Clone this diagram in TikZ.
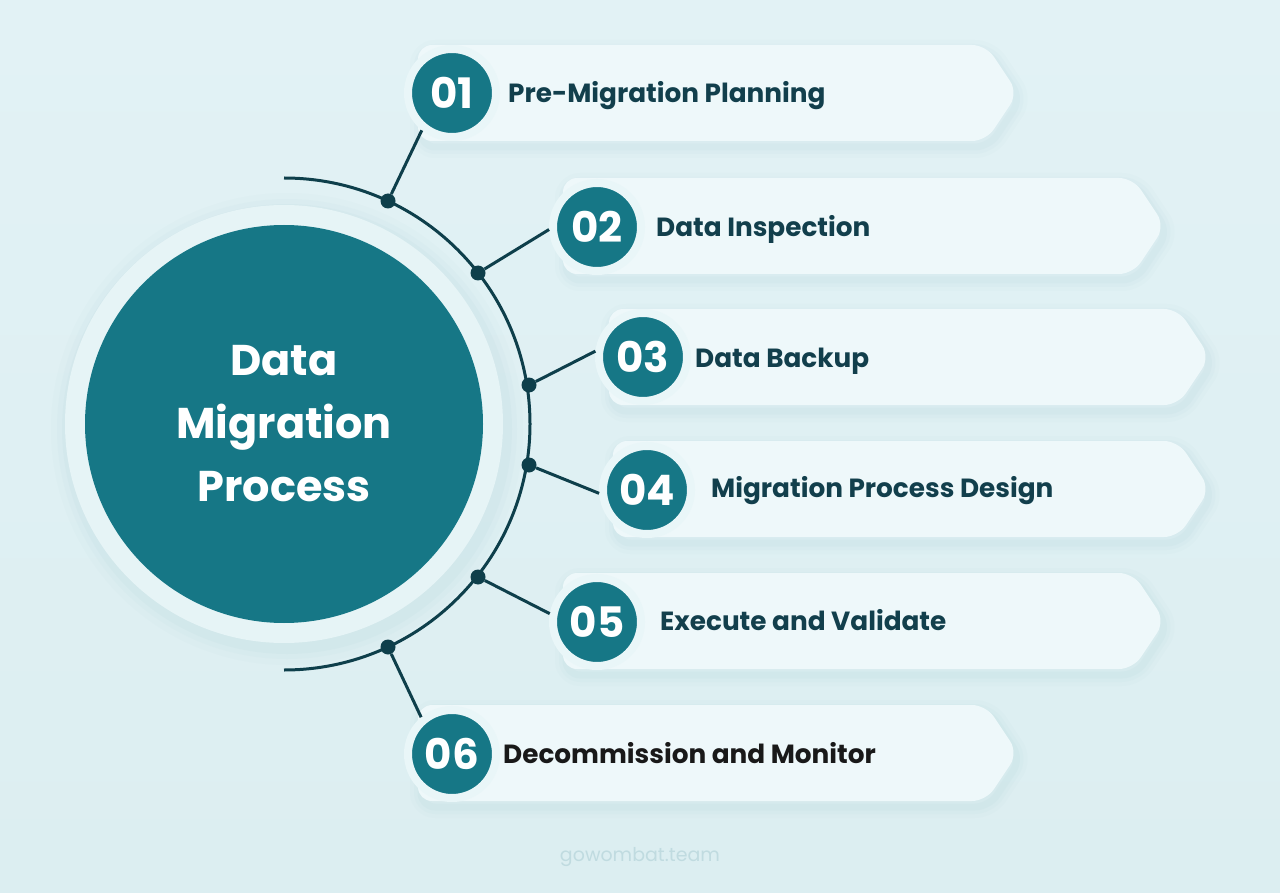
\documentclass[tikz,border=0pt]{standalone}
\usepackage{fontspec}
\setmainfont{Poppins}
\usetikzlibrary{calc}
\definecolor{bgtop}{HTML}{E2F2F5}
\definecolor{bgbot}{HTML}{DCEEF1}
\definecolor{teal}{HTML}{167786}
\definecolor{darkline}{HTML}{0E3F4B}
\definecolor{halo}{HTML}{E9F6F8}
\definecolor{bigring}{HTML}{E6F4F6}
\definecolor{bannerfill}{HTML}{EEF8FA}
\definecolor{shadowc}{HTML}{9CC6CE}
\definecolor{labelc}{HTML}{123F4C}
\definecolor{markc}{HTML}{C0DBE0}
\newcommand\bshape[3]{(#1,#2-48) -- (#3-32,#2-48) -- (#3,#2) -- (#3-32,#2+48) -- (#1,#2+48) -- cycle}
\newcommand\banner[3]{%
  \begin{scope}[shift={(3,6)}]
    \foreach \w/\o in {22/0.04,14/0.05,7/0.07}{%
      \draw[shadowc,line width=\w pt,opacity=\o,rounded corners=14pt,line join=round] \bshape{#1}{#2}{#3};}
  \end{scope}
  \fill[bannerfill,rounded corners=14pt] \bshape{#1}{#2}{#3};}
\tikzset{
  bigc/.style={circle,fill=teal,minimum size=398pt,inner sep=0pt,text=white,
    font=\bfseries\fontsize{43}{63}\selectfont,align=center},
  numc/.style={circle,fill=teal,draw=halo,line width=8pt,minimum size=88pt,inner sep=0pt,
    text=white,font=\bfseries\fontsize{42}{42}\selectfont},
  dotc/.style={circle,fill=darkline,minimum size=15pt,inner sep=0pt},
  conn/.style={darkline,line width=3pt},
  lab/.style={anchor=base west,inner sep=0pt,text=labelc,font=\bfseries\fontsize{26.3}{30}\selectfont},
}
\begin{document}
\begin{tikzpicture}[x=1pt,y=-1pt]
\shade[top color=bgtop,bottom color=bgbot] (0,0) rectangle (1280,893);
\useasboundingbox (0,0) rectangle (1280,893);
% central circle
\foreach \r/\o in {236/0.04,230/0.05,225/0.07}{\fill[shadowc,opacity=\o] (287,429) circle (\r);}
\fill[bigring] (284,424) circle (219);
\node[bigc] (main) at (284,424) {Data\\Migration\\Process};
% arc
\draw[conn] (284,178) arc[start angle=-90,end angle=90,radius=246];
% banners
\banner{418}{93}{1018}
\banner{563}{226}{1165}
\banner{609}{357}{1210}
\banner{613}{489}{1210}
\banner{563}{621}{1165}
\banner{418}{753}{1018}
% number circles
\node[numc] (n1) at (452,93) {01};
\node[numc] (n2) at (597,227) {02};
\node[numc] (n3) at (643,357) {03};
\node[numc] (n4) at (647,490) {04};
\node[numc] (n5) at (597,622) {05};
\node[numc] (n6) at (452,754) {06};
% dots
\node[dotc] (d1) at (388,201) {};
\node[dotc] (d2) at (478,273) {};
\node[dotc] (d3) at (529,385) {};
\node[dotc] (d4) at (529,465) {};
\node[dotc] (d5) at (478,577) {};
\node[dotc] (d6) at (388,647) {};
% connectors
\draw[conn] (d1) -- (n1.231);
\draw[conn] (d2) -- (n2.183);
\draw[conn] (d3) -- (n3.173);
\draw[conn] (d4) -- (n4.184);
\draw[conn] (d5) -- (n5.170);
\draw[conn] (d6) -- (n6.130);
% labels
\node[lab] (t1) at (508,103) {Pre-Migration Planning};
\node[lab] (t2) at (656,237) {Data Inspection};
\node[lab] (t3) at (695,367) {Data Backup};
\node[lab] (t4) at (711,497) {Migration Process Design};
\node[lab] (t5) at (660,630) {Execute and Validate};
\node[lab,text=black!90] (t6) at (503,763) {Decommission and Monitor};
% watermark
\node[text=markc,font=\fontsize{19}{22}\selectfont] (wm) at (640,857) {gowombat.team};
\end{tikzpicture}
\end{document}
